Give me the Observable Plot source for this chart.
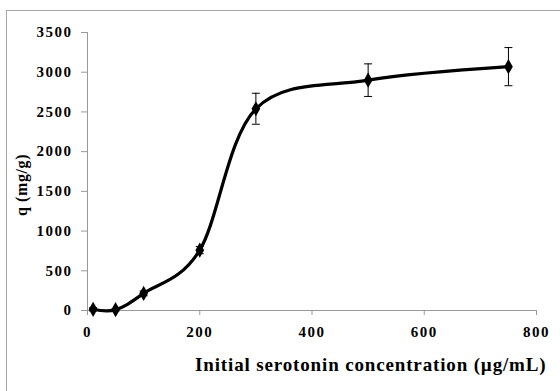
<!DOCTYPE html>
<html>
<head>
<meta charset="utf-8">
<script src="https://cdn.jsdelivr.net/npm/d3@7"></script>
<script src="https://cdn.jsdelivr.net/npm/@observablehq/plot@0.6"></script>
<style>
  html, body { margin: 0; padding: 0; background: #fff; overflow: hidden; }
  #wrap { position: relative; width: 560px; height: 391px; }
  #frame { position: absolute; left: 6px; top: 10px; width: 600px; height: 420px;
           border: 1.5px solid #a6a6a6; box-sizing: border-box; }
  #chart { position: absolute; left: 0; top: 0; }
  #chart svg text { font-family: "Liberation Serif", "Times New Roman", serif !important; font-weight: bold; }
  #chart svg g[aria-label="x-axis tick label"] text,
  #chart svg g[aria-label="y-axis tick label"] text { letter-spacing: 1.5px; }
</style>
</head>
<body>
<div id="wrap"><div id="frame"></div><div id="chart"></div></div>
<script>
// Data
const concentration = [10, 50, 100, 200, 300, 500, 750];
const q = [15, 10, 215, 760, 2540, 2900, 3070];
const qErr = [20, 15, 30, 45, 195, 205, 240];
const xTicks = [0, 200, 400, 600, 800];
const yTicks = [0, 500, 1000, 1500, 2000, 2500, 3000, 3500];
const xLabel = "Initial serotonin concentration (\u00b5g/mL)";
const yLabel = "q (mg/g)";

const data = concentration.map((c, i) => ({x: c, y: q[i], lo: q[i] - qErr[i], hi: q[i] + qErr[i]}));

const capSymbol = {
  draw(context, size) {
    const w = Math.sqrt(size);
    context.moveTo(-w / 2, 0);
    context.lineTo(w / 2, 0);
  }
};

const serif = "Liberation Serif, Times New Roman, serif";

const chart = Plot.plot({
  width: 560,
  height: 391,
  marginLeft: 87,
  marginRight: 24,
  marginTop: 32,
  marginBottom: 81,
  style: {background: "transparent", fontFamily: serif, fontSize: "15px", color: "#000"},
  x: {domain: [0, 800], ticks: xTicks, label: null},
  y: {domain: [0, 3500], ticks: yTicks, label: null},
  marks: [
    Plot.axisX({ticks: xTicks, tickFormat: "d", tickSize: 5, tickPadding: 11, stroke: "#999", fill: "#000", fontFamily: serif, fontSize: 15, fontWeight: "bold", label: null}),
    Plot.axisY({ticks: yTicks, tickFormat: "d", tickSize: 6, tickPadding: 9, stroke: "#999", fill: "#000", fontFamily: serif, fontSize: 15, fontWeight: "bold", label: null}),
    Plot.ruleY([0], {stroke: "#999", strokeWidth: 1}),
    Plot.ruleX([0], {stroke: "#999", strokeWidth: 1}),
    Plot.ruleX(data, {x: "x", y1: "lo", y2: "hi", stroke: "#000", strokeWidth: 1}),
    Plot.dot(data, {x: "x", y: "lo", symbol: capSymbol, r: 4.5, stroke: "#000", strokeWidth: 1}),
    Plot.dot(data, {x: "x", y: "hi", symbol: capSymbol, r: 4.5, stroke: "#000", strokeWidth: 1}),
    Plot.line(data, {x: "x", y: "y", curve: "cardinal", stroke: "#000", strokeWidth: 3.2}),
    Plot.dot(data, {x: "x", y: "y", symbol: "diamond", r: 4.6, fill: "#000", stroke: null}),
    Plot.text([xLabel], {frameAnchor: "bottom-right", textAnchor: "end", dx: 10, dy: 60, fontFamily: serif, fontSize: 19, fontWeight: "bold", fill: "#000"}),
    Plot.text([yLabel], {frameAnchor: "left", textAnchor: "middle", rotate: -90, fontFamily: serif, fontSize: 16, fontWeight: "bold", fill: "#000"})
  ]
});
// letter spacing for titles and exact placement of the rotated y-axis title
d3.select(chart).selectAll("text").each(function() {
  const t = d3.select(this);
  if (t.text() === xLabel) t.style("letter-spacing", "0.85px");
  if (t.text() === yLabel) {
    t.style("letter-spacing", "0.6px").attr("text-anchor", "middle");
    t.attr("x", null).attr("y", null)
     .attr("transform", "translate(27,185) rotate(-90)");
    d3.select(this.parentNode).attr("transform", null).attr("text-anchor", "middle");
  }
});
document.getElementById("chart").appendChild(chart);
</script>
</body>
</html>
